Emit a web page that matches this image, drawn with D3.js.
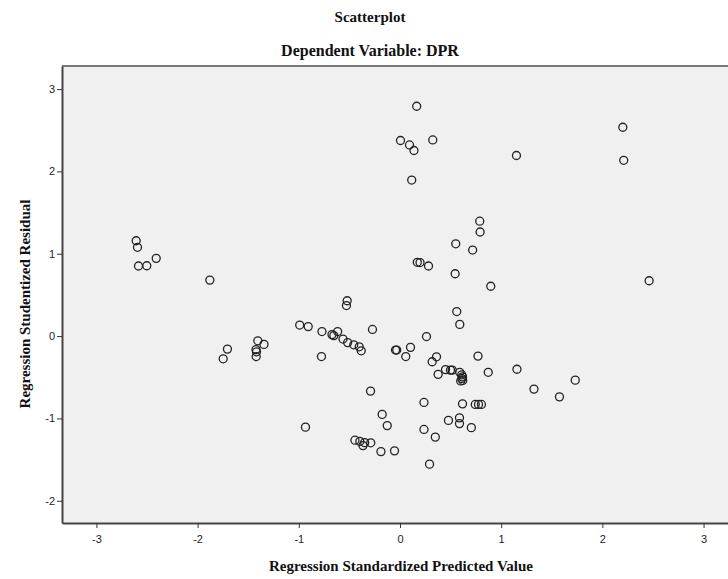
<!DOCTYPE html>
<head>
  <meta charset="utf-8">
  <script src="https://d3js.org/d3.v7.min.js"></script>
  <style>
    body { margin:0; background:#fff; overflow:hidden; }

    .title {
      font-family: 'Liberation Serif', 'Times New Roman', serif;
      font-weight: 700;
      font-size: 15px;
      fill: #111;
    }

    .axis-title {
      font-family: 'Liberation Serif', 'Times New Roman', serif;
      font-weight: 700;
      font-size: 15px;
      fill: #111;
    }

    .tick-label {
      font-family: 'Liberation Sans', Arial, sans-serif;
      font-size: 11px;
      fill: #222;
    }

    .pt {
      fill: none;
      stroke: #222;
      stroke-width: 1.3;
    }
  </style>
</head>

<body>
  <script>
    // Regression Standardized Predicted Value (x)
    var predicted = [
      -2.607, -2.594, -2.584, -2.502, -2.409, -1.879,
      -0.522, -0.529, -0.991, -0.907, -0.771, -0.776, -0.672, -0.654, -0.616,
      -0.563, -0.517, -0.457, -0.403, -0.383, -0.272, -0.291,
      -1.405, -1.344, -1.423, -1.418, -1.421, -1.705, -1.747,
      -0.934, -0.445, -0.397, -0.366, -0.349, -0.289, -0.188, -0.054,
      -0.176, -0.126, 0.237, 0.237, 0.349, 0.292, 0.479, 0.588, 0.588, 0.705,
      0.618, 0.744, 0.776, 0.805,
      -0.044, -0.032, 0.104, 0.057, 0.262, 0.361, 0.318, 0.377, 0.450, 0.499, 0.516,
      0.590, 0.610, 0.618, 0.610, 0.600, 0.620,
      0.771, 0.872, 1.156, 1.324, 1.576, 1.732, 0.561, 0.591,
      0.165, 0.005, 0.094, 0.138, 0.324, 1.151, 2.202, 2.211, 0.116,
      0.788, 0.792, 0.551, 0.718, 0.171, 0.198, 0.282, 0.545, 0.897, 2.462
    ];

    // Regression Studentized Residual (y)
    var residual = [
      1.158, 1.078, 0.851, 0.854, 0.944, 0.680,
      0.429, 0.371, 0.134, 0.115, 0.055, -0.249, 0.018, 0.006, 0.055,
      -0.036, -0.079, -0.106, -0.130, -0.179, 0.081, -0.668,
      -0.057, -0.101, -0.164, -0.191, -0.249, -0.158, -0.276,
      -1.106, -1.264, -1.279, -1.330, -1.294, -1.296, -1.403, -1.394,
      -0.951, -1.087, -0.806, -1.134, -1.227, -1.555, -1.024, -0.993, -1.063, -1.112,
      -0.823, -0.830, -0.830, -0.830,
      -0.170, -0.170, -0.137, -0.249, -0.006, -0.252, -0.312, -0.465, -0.407, -0.413, -0.413,
      -0.440, -0.470, -0.495, -0.515, -0.545, -0.540,
      -0.243, -0.440, -0.403, -0.644, -0.738, -0.535, 0.298, 0.142,
      2.791, 2.375, 2.321, 2.254, 2.382, 2.193, 2.536, 2.135, 1.895,
      1.395, 1.264, 1.121, 1.045, 0.896, 0.893, 0.851, 0.757, 0.605, 0.672
    ];

    var xTicks = [-3, -2, -1, 0, 1, 2, 3];
    var yTicks = [-2, -1, 0, 1, 2, 3];

    var width = 728, height = 579;
    var plot = {left: 62, right: 740, top: 66, bottom: 523};

    var svg = d3.select("body").append("svg")
      .attr("width", width)
      .attr("height", height);

    var x = d3.scaleLinear()
      .domain([-3.34, 3.36])
      .range([plot.left, plot.right]);

    var y = d3.scaleLinear()
      .domain([-2.27, 3.28])
      .range([plot.bottom, plot.top]);

    // plot background
    svg.append("rect")
      .attr("x", plot.left)
      .attr("y", plot.top)
      .attr("width", plot.right - plot.left)
      .attr("height", plot.bottom - plot.top)
      .attr("fill", "#f0f0f0");

    // top frame line
    svg.append("line")
      .attr("x1", plot.left).attr("x2", plot.right)
      .attr("y1", plot.top).attr("y2", plot.top)
      .attr("stroke", "#777").attr("stroke-width", 2);

    // axes - SPSS prints plain hyphen minus, no decimals
    var fmt = d => String(d);
    var xAxis = d3.axisBottom(x).tickValues(xTicks).tickFormat(fmt).tickSize(5).tickSizeOuter(0);
    var yAxis = d3.axisLeft(y).tickValues(yTicks).tickFormat(fmt).tickSize(5).tickSizeOuter(0);

    var gx = svg.append("g")
      .attr("transform", "translate(0," + plot.bottom + ")")
      .call(xAxis);
    var gy = svg.append("g")
      .attr("transform", "translate(" + plot.left + ",0)")
      .call(yAxis);

    [gx, gy].forEach(function(g) {
      g.select(".domain").attr("stroke", "#444").attr("stroke-width", 2);
      g.selectAll(".tick line").attr("stroke", "#333");
      g.selectAll(".tick text").attr("class", "tick-label").attr("font-family", null).attr("font-size", null);
    });
    gx.selectAll(".tick text").attr("dy", "0.95em").attr("y", 10);
    gy.selectAll(".tick text").attr("x", -7);

    // points
    svg.append("g")
      .selectAll("circle")
      .data(predicted.map(function(p, i) { return {x: p, y: residual[i]}; }))
      .enter().append("circle")
        .attr("class", "pt")
        .attr("cx", d => x(d.x))
        .attr("cy", d => y(d.y))
        .attr("r", 4);

    // titles
    svg.append("text")
      .attr("class", "title")
      .attr("x", 370).attr("y", 22)
      .attr("text-anchor", "middle")
      .text("Scatterplot");
    svg.append("text")
      .attr("class", "title")
      .attr("x", 370).attr("y", 56)
      .attr("text-anchor", "middle")
      .style("font-size", "16px")
      .text("Dependent Variable: DPR");

    svg.append("text")
      .attr("class", "axis-title")
      .attr("x", 401).attr("y", 571)
      .attr("text-anchor", "middle")
      .text("Regression Standardized Predicted Value");

    svg.append("text")
      .attr("class", "axis-title")
      .attr("text-anchor", "middle")
      .attr("transform", "translate(30,304) rotate(-90)")
      .text("Regression Studentized Residual");
  </script>
</body>
